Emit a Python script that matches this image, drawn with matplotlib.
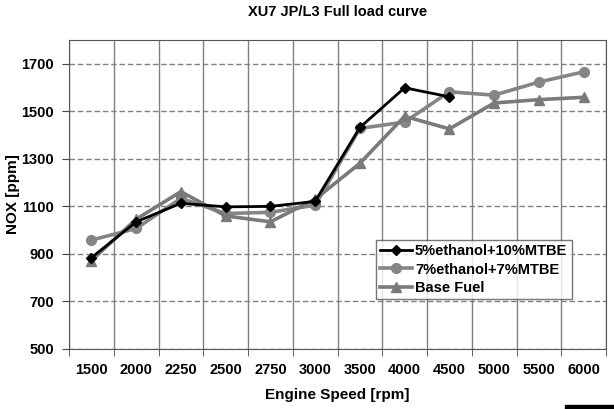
import numpy as np
import matplotlib.pyplot as plt
from matplotlib.patches import Rectangle

plt.rcParams["font.family"] = ["Liberation Sans", "DejaVu Sans"]
plt.rcParams["font.weight"] = "bold"

speeds = ['1500', '2000', '2250', '2500', '2750', '3000',
          '3500', '4000', '4500', '5000', '5500', '6000']

# NOx [ppm] per engine speed
eth5_mtbe10 = [884, 1035, 1113, 1098, 1100, 1121, 1432, 1599, 1561]
eth7_mtbe7 = [958, 1007, 1134, 1070, 1075, 1105, 1428, 1455, 1582, 1568, 1623, 1666]
base_fuel = [872, 1046, 1162, 1060, 1035, 1130, 1281, 1479, 1426, 1535, 1549, 1559]

yticks = [500, 700, 900, 1100, 1300, 1500, 1700]

fig = plt.figure(figsize=(6.14, 4.09), dpi=100)
ax = fig.add_axes([69 / 614, 60 / 409, 537 / 614, 309 / 409])

x = np.arange(len(speeds))
ax.plot(x[:len(eth5_mtbe10)], eth5_mtbe10, color='black', lw=2, marker='D',
        ms=5, label='5%ethanol+10%MTBE', zorder=4)
ax.plot(x, eth7_mtbe7, color='#858585', lw=2.6, marker='o', ms=7,
        label='7%ethanol+7%MTBE', zorder=3)
ax.plot(x, base_fuel, color='#7a7a7a', lw=2.6, marker='^', ms=7,
        label='Base Fuel', zorder=3)

ax.set_xlim(-0.5, len(speeds) - 0.5)
ax.set_ylim(500, 1800)
ax.set_xticks(x)
ax.set_xticklabels(speeds, fontsize=10.5, fontweight='bold')
ax.set_xticks(np.arange(-0.5, len(speeds)), minor=True)
ax.tick_params(axis='x', which='major', length=0, pad=10)
ax.tick_params(axis='x', which='minor', length=5, color='#444444')
ax.set_yticks(yticks)
ax.set_yticklabels([str(v) for v in yticks], fontsize=10.5, fontweight='bold')
ax.tick_params(axis='y', length=5, color='#444444', pad=6)

ax.grid(True, axis='x', which='minor', color='#808080', lw=1, ls='-')
ax.grid(True, axis='y', which='major', color='#808080', lw=1, ls=(0, (4, 2)))
ax.set_axisbelow(True)
for s in ax.spines.values():
    s.set_color('#555555')

ax.set_title('XU7 JP/L3 Full load curve', fontsize=10.5, fontweight='bold', pad=17)
ax.set_xlabel('Engine Speed [rpm]', fontsize=11, fontweight='bold', labelpad=8)
ax.set_ylabel('NOX [ppm]', fontsize=11, fontweight='bold')
ax.yaxis.set_label_coords(-0.092, 0.5)

leg = ax.legend(loc='lower left', bbox_to_anchor=(0.571, 0.161), fontsize=10.5,
                frameon=True, fancybox=False, edgecolor='#555555',
                handlelength=2.2, handletextpad=0.2, labelspacing=0.3,
                borderpad=0.3, borderaxespad=0)
leg.get_frame().set_linewidth(1)

fig.patches.append(Rectangle((565 / 614, 0), 49 / 614, 4 / 409,
                             transform=fig.transFigure, color='black'))

fig.savefig('out.png', dpi=100)
